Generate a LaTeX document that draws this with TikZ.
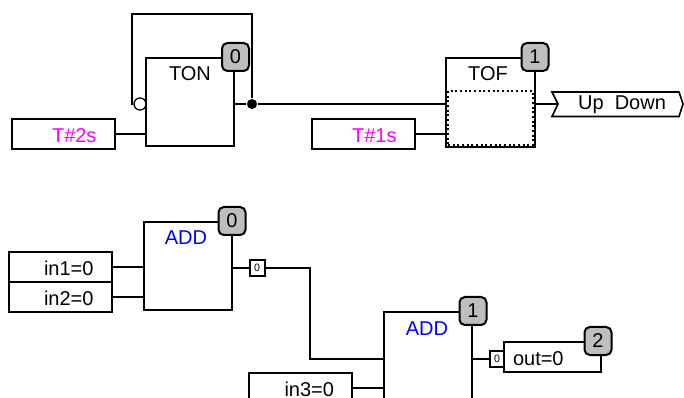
\documentclass[tikz,border=0pt]{standalone}
\usepackage{fontspec}
\setmainfont{Liberation Sans}
\usepackage{xcolor}
\usepackage{tikz}
\usetikzlibrary{arrows.meta,shapes.geometric,positioning}
\def\px{0.75pt}
\definecolor{badgegray}{RGB}{190,190,190}
\definecolor{timepink}{RGB}{255,0,255}
\definecolor{addblue}{RGB}{0,0,255}

\begin{document}
\begin{tikzpicture}[x=0.75pt, y=-0.75pt, line width=1.5pt, font=\fontsize{15pt}{17pt}\selectfont]
        % Stijlen
        \tikzstyle{block} = [rectangle, draw=black, fill=white, inner sep=0pt, minimum width=88*\px, minimum height=88*\px]
        \tikzstyle{badge} = [rectangle, rounded corners=4pt, draw=black, fill=badgegray, inner sep=0pt, minimum width=27*\px, minimum height=28*\px]
        \tikzstyle{inbox} = [rectangle, draw=black, fill=white, inner sep=0pt, text width=103*\px, text height=12.5pt, text depth=0pt, minimum height=30*\px, align=flush right, execute at end node={\hspace*{13.5pt}}]
        \tikzstyle{pinbox} = [rectangle, draw=black, fill=white, inner sep=0pt, minimum width=15*\px, minimum height=16*\px, font=\fontsize{8pt}{9pt}\selectfont]
        \tikzstyle{title} = [inner sep=0pt]
        \tikzstyle{wire} = [draw=black]

        \useasboundingbox (0,0) rectangle (684,398);
        \clip (0,0) rectangle (684,398);

        % Bovenste netwerk
        \node (ton) [block] at (190,102) {};
        \node (tonTitle) [title] at (190,74) {TON};
        \node (t2s) [inbox, text=timepink] at (63,134) {T\#2s};
        \node (neg) [circle, draw=black, fill=white, inner sep=0pt, minimum size=12*\px, line width=1pt] at (140,104) {};
        \node (dot) [circle, fill=black, inner sep=0pt, minimum size=10*\px] at (252,104) {};
        \coordinate (fbRight) at (252,14);
        \coordinate (fbLeft) at (132,14);

        \node (tof) [block, minimum width=89*\px, minimum height=89*\px] at (490.5,102.5) {};
        \node (tofInner) [rectangle, draw=black, dotted, inner sep=0pt, minimum width=85*\px, minimum height=54*\px] at (490.5,118) {};
        \node (tofTitle) [title] at (488,74) {TOF};
        \node (t1s) [inbox, text=timepink] at (363,134) {T\#1s};
        \node (updown) [title] at (622,105) {Up\ \ Down};
        \coordinate (udA) at (552,92);
        \coordinate (udB) at (679,92);
        \coordinate (udF) at (683,104);
        \coordinate (udC) at (679,116.5);
        \coordinate (udD) at (552,116.5);
        \coordinate (udE) at (558,104);

        % Onderste netwerk
        \node (addA) [block] at (187.5,266) {};
        \node (addATitle) [title, text=addblue] at (186,238) {ADD};
        \node (in1) [inbox] at (60,267) {in1=0};
        \node (in2) [inbox] at (60,297.5) {in2=0};
        \node (pinA) [pinbox] at (257,268) {0};
        \coordinate (bend) at (310,268);

        \node (addB) [block, minimum height=120*\px] at (428,372) {};
        \node (addBTitle) [title, text=addblue] at (427,329) {ADD};
        \node (in3) [inbox] at (300.5,388) {in3=0};
        \node (pinB) [pinbox] at (497,359) {0};
        \node (out) [rectangle, draw=black, fill=white, inner sep=0pt, minimum height=30*\px, text width=97*\px, text height=13pt, text depth=0pt, align=flush left, execute at begin node={\hspace*{6.75pt}}] at (552.5,357) {out=0};

        % Draden
        \draw [wire] (t2s.east) -- (t2s -| ton.west);
        \draw [wire] (dot) -- (fbRight) -- (fbLeft) -- (fbLeft |- neg) -- (neg);
        \draw [wire] (dot -| ton.east) -- (dot) -- (dot -| tof.west);
        \draw [wire] (t1s.east) -- (t1s -| tof.west);
        \draw [wire] (dot -| tof.east) -- (udE);
        \draw [wire, line width=1.2pt] (udA) -- (udB) -- (udF) -- (udC) -- (udD) -- (udE) -- cycle;
        \draw [wire] (in1.east) -- (in1 -| addA.west);
        \draw [wire] (in2.east) -- (in2 -| addA.west);
        \draw [wire] (pinA -| addA.east) -- (pinA.west);
        \draw [wire] (pinA.east) -- (bend) -- (bend |- pinB) -- (pinB -| addB.west);
        \draw [wire] (in3.east) -- (in3 -| addB.west);
        \draw [wire] (pinB -| addB.east) -- (pinB.west);

        % Nummers
        \node (badgeTon) [badge] at (235.5,57) {0};
        \node (badgeTof) [badge] at (535,57) {1};
        \node (badgeAddA) [badge] at (232,221) {0};
        \node (badgeAddB) [badge] at (473,311) {1};
        \node (badgeOut) [badge] at (598,341) {2};
\end{tikzpicture}
\end{document}
